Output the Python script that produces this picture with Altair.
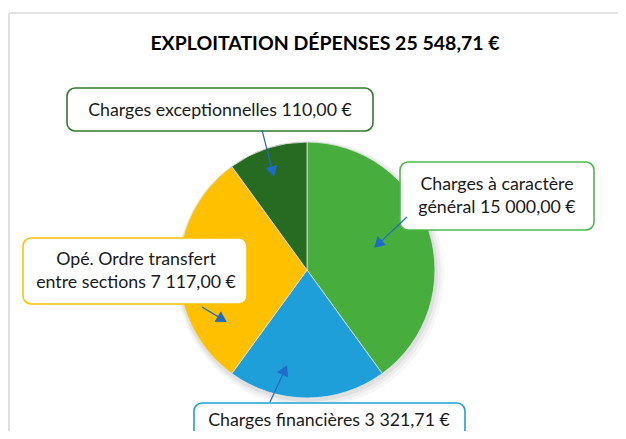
import altair as alt
import pandas as pd
import math

# ---- data ----
categories = ["Charges à caractère général", "Charges financières",
              "Opé. Ordre transfert entre sections", "Charges exceptionnelles"]
label_text = ["Charges à caractère\ngénéral 15 000,00 €",
              "Charges financières 3 321,71 €",
              "Opé. Ordre transfert\nentre sections 7 117,00 €",
              "Charges exceptionnelles 110,00 €"]
shares = [40, 20, 30, 10]          # slice shares as drawn (%)
order = [1, 2, 3, 4]
slice_colors = ["#47AE3E", "#1F9FD9", "#FFC000", "#276B23"]
border_colors = ["#4DB84A", "#1F9FD9", "#FFC000", "#2F7A2C"]
title_text = "EXPLOITATION DÉPENSES 25 548,71 €"

# ---- layout (page pixel coordinates) ----
W, H = 610, 423
OX, OY = 8, 8
CX, CY, R = 307, 270, 128

box_x1 = [400, 194, 23, 67]
box_x2 = [594, 465, 247, 373]
box_y1 = [162, 403, 238, 88]
box_y2 = [230, 440, 304, 131]
text_x = [497, 329, 136, 220]
text_y = [185, 421, 260, 111]

arr_x1 = [407, 270, 202, 262]
arr_y1 = [217, 402, 307, 130]
arr_x2 = [374, 287, 227, 274]
arr_y2 = [248, 365, 322, 177]

hx, hy, ex, ey, ang = [], [], [], [], []
for a, b, c, d in zip(arr_x1, arr_y1, arr_x2, arr_y2):
    dx, dy = c - a, d - b
    L = math.hypot(dx, dy)
    ux, uy = dx / L, dy / L
    hx.append(c - 5.5 * ux)
    hy.append(d - 5.5 * uy)
    ex.append(c - 9 * ux)
    ey.append(d - 9 * uy)
    ang.append(math.degrees(math.atan2(dx, -dy)) % 360)

pie_df = pd.DataFrame({"cat": categories, "share": shares, "ord": order})
box_df = pd.DataFrame({"x": box_x1, "x2": box_x2, "y": box_y1, "y2": box_y2,
                       "border": border_colors, "tx": text_x, "ty": text_y,
                       "label": label_text})
arr_df = pd.DataFrame({"x": arr_x1, "y": arr_y1, "x2": ex, "y2": ey,
                       "hx": hx, "hy": hy, "ang": ang})
frame_df = pd.DataFrame({"x": [9, 9], "x2": [OX + W, 9], "y": [13, 13], "y2": [13, OY + H]})
title_df = pd.DataFrame({"x": [325], "y": [44], "t": [title_text]})

xs = alt.Scale(domain=[OX, OX + W], range=[0, W], nice=False, zero=False)
ys = alt.Scale(domain=[OY, OY + H], range=[0, H], nice=False, zero=False)
FONT = "Lato"

frame = alt.Chart(frame_df).mark_rule(color="#D9D9D9", strokeWidth=1.6).encode(
    x=alt.X("x:Q", scale=xs, axis=None), x2="x2:Q",
    y=alt.Y("y:Q", scale=ys, axis=None), y2="y2:Q")

title = alt.Chart(title_df).mark_text(font=FONT, fontSize=19.5, fontWeight="bold",
                                      color="#000000", baseline="middle").encode(
    x=alt.X("x:Q", scale=xs, axis=None), y=alt.Y("y:Q", scale=ys, axis=None), text="t:N")

shadows = []
for r, op, off in [(134, 0.03, 3), (132, 0.04, 2), (130, 0.05, 1)]:
    shadows.append(alt.Chart(pie_df.head(1)).mark_arc(
        radius=r, theta=0, theta2=6.2832, fill="#000000", opacity=op).encode(
        x=alt.value(CX - OX + off), y=alt.value(CY - OY + off + 1)))

pie = alt.Chart(pie_df).mark_arc(radius=R, stroke="#E3E3E3", strokeWidth=0.8).encode(
    theta=alt.Theta("share:Q", stack=True),
    color=alt.Color("cat:N", scale=alt.Scale(domain=categories, range=slice_colors), legend=None),
    order=alt.Order("ord:Q"),
    x=alt.value(CX - OX), y=alt.value(CY - OY))

boxes = alt.Chart(box_df).mark_rect(fill="white", cornerRadius=8, strokeWidth=1.6).encode(
    x=alt.X("x:Q", scale=xs, axis=None), x2="x2:Q",
    y=alt.Y("y:Q", scale=ys, axis=None), y2="y2:Q",
    stroke=alt.Stroke("border:N", scale=None))

labels = alt.Chart(box_df).mark_text(font=FONT, fontSize=17.8, color="#1A1A1A",
                                     lineBreak="\n", lineHeight=23, baseline="middle").encode(
    x=alt.X("tx:Q", scale=xs, axis=None), y=alt.Y("ty:Q", scale=ys, axis=None), text="label:N")

lines = alt.Chart(arr_df).mark_rule(color="#1F6BC5", strokeWidth=1.2).encode(
    x=alt.X("x:Q", scale=xs, axis=None), x2="x2:Q",
    y=alt.Y("y:Q", scale=ys, axis=None), y2="y2:Q")

heads = alt.Chart(arr_df).mark_point(shape="triangle-up", filled=True, size=150,
                                     color="#1F6BC5", opacity=1).encode(
    x=alt.X("hx:Q", scale=xs, axis=None), y=alt.Y("hy:Q", scale=ys, axis=None),
    angle=alt.Angle("ang:Q", scale=None))

chart = alt.layer(frame, title, *shadows, pie, boxes, labels, lines, heads).properties(
    width=W, height=H, padding=0, autosize=alt.AutoSizeParams(type="none")
).configure_view(stroke=None)

chart.save("out.html", embed_options={"renderer": "svg", "actions": False})
